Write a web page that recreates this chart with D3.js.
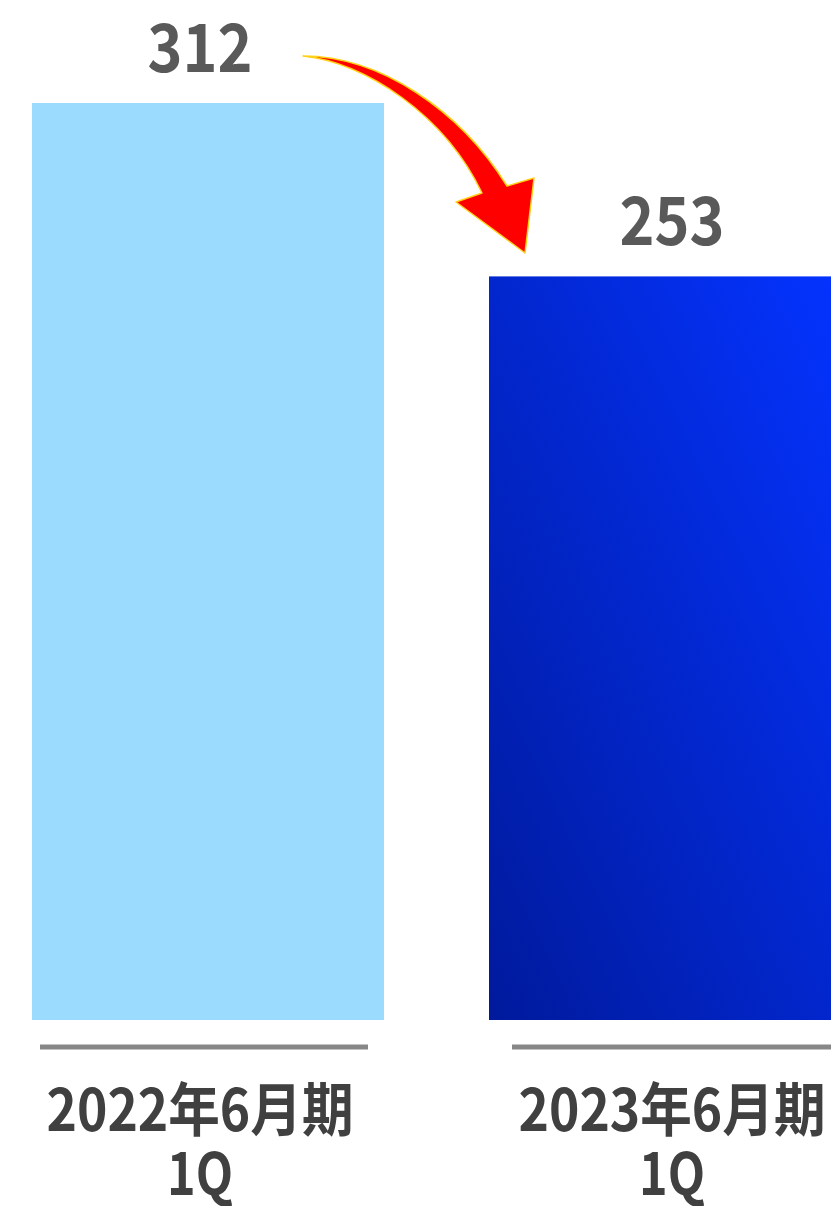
<!DOCTYPE html>
<html><head><meta charset="utf-8">
<script src="https://cdn.jsdelivr.net/npm/d3@7"></script>
<style>html,body{margin:0;padding:0;background:#fff;overflow:hidden}</style>
</head><body>
<svg id="chart" width="831" height="1206"></svg>
<script>
const categories = ["2022年6月期\n1Q", "2023年6月期\n1Q"];
const values = [312, 253];
const valueLabels = ["312", "253"];

const svg = d3.select("#chart");

const x = d3.scaleBand().domain(categories).range([32, 841]).paddingInner(105/457).paddingOuter(0);
const xc = d3.scalePoint().domain(categories).range([200, 672]);
const y = d3.scaleLinear().domain([0, 312]).range([1020, 103]);

const defs = svg.append("defs");
const g = defs.append("linearGradient").attr("id","blueGrad")
  .attr("x1","0%").attr("y1","100%").attr("x2","100%").attr("y2","0%");
g.append("stop").attr("offset","0%").attr("stop-color","#001a9c");
g.append("stop").attr("offset","100%").attr("stop-color","#0433ff");

const fills = ["#9bdbfd", "url(#blueGrad)"];

svg.selectAll("rect.bar").data(values).join("rect").attr("class","bar")
  .attr("x",(d,i)=>x(categories[i]))
  .attr("y",d=>y(d))
  .attr("width",x.bandwidth())
  .attr("height",d=>y(0)-y(d))
  .attr("fill",(d,i)=>fills[i]);

svg.selectAll("line.base").data(categories).join("line").attr("class","base")
  .attr("x1",d=>xc(d)-160).attr("x2",d=>xc(d)+168)
  .attr("y1",1047).attr("y2",1047)
  .attr("stroke","#878787").attr("stroke-width",5);

svg.selectAll("text.val").data(values).join("text").attr("class","val")
  .attr("x",(d,i)=>xc(categories[i]))
  .attr("y",d=>y(d)-31)
  .attr("text-anchor","middle")
  .attr("font-family","'Noto Sans CJK JP', sans-serif")
  .attr("font-weight","bold")
  .attr("font-size",66)
  .attr("fill","#595959")
  .attr("textLength",105).attr("lengthAdjust","spacingAndGlyphs")
  .text((d,i)=>valueLabels[i]);

const lineLens = [307, 66];
const cl = svg.selectAll("text.cat").data(categories).join("text").attr("class","cat")
  .attr("text-anchor","middle")
  .attr("font-family","'Noto Sans CJK JP', sans-serif")
  .attr("font-weight","bold")
  .attr("font-size",58)
  .attr("fill","#404040");
cl.each(function(d){
  const t = d3.select(this);
  d.split("\n").forEach((line,k)=>{
    t.append("tspan").attr("x",xc(d)).attr("y",1131 + k*64)
      .attr("textLength",lineLens[k]).attr("lengthAdjust","spacingAndGlyphs")
      .text(line);
  });
});

const p = d3.path();
p.moveTo(303,56);
p.bezierCurveTo(380,56,460,110,507,186);
p.lineTo(534,178);
p.lineTo(525,253);
p.lineTo(456,202);
p.lineTo(482,193);
p.bezierCurveTo(445,115,365,62,303,56);
p.closePath();
svg.append("path").attr("d",p.toString())
  .attr("fill","#ff0000").attr("stroke","#ffd21a").attr("stroke-width",1.5)
  .attr("stroke-linejoin","round");
</script>
</body></html>
